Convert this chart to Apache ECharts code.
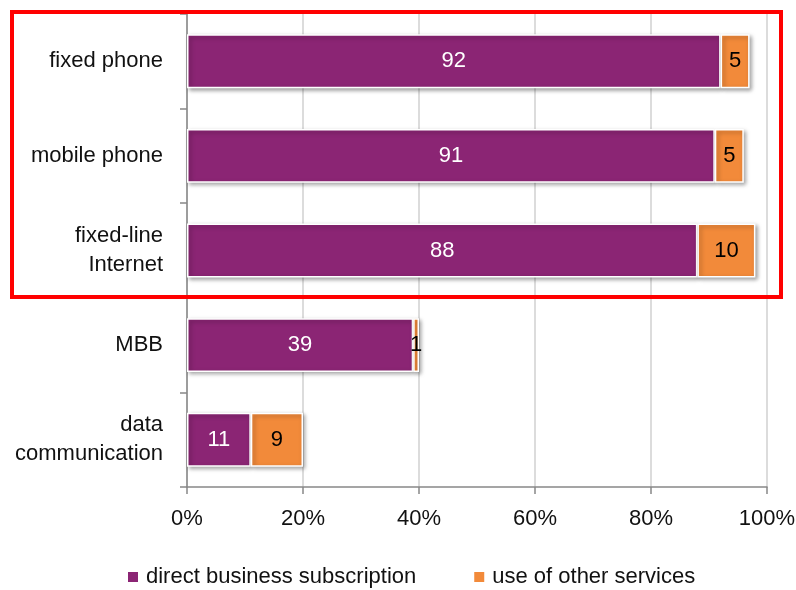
<!DOCTYPE html>
<html>
<head>
<meta charset="utf-8">
<script src="https://cdn.jsdelivr.net/npm/echarts@6/dist/echarts.min.js"></script>
<style>
  html, body { margin: 0; padding: 0; background: #fff; }
  #chart { width: 796px; height: 590px; }
</style>
</head>
<body>
<div id="chart"></div>
<script>
// categories from top to bottom
const categories = ['fixed phone', 'mobile phone', 'fixed-line\nInternet', 'MBB', 'data\ncommunication'];
const directSub = [92, 91, 88, 39, 11];
const otherServices = [5, 5, 10, 1, 9];
const xTicks = [0, 20, 40, 60, 80, 100];

const chart = echarts.init(document.getElementById('chart'));

const barStyle = (color) => ({
  color: color,
  borderColor: '#fff',
  borderWidth: 1.5,
  shadowBlur: 4,
  shadowColor: 'rgba(0,0,0,0.35)',
  shadowOffsetX: 2,
  shadowOffsetY: 2
});

const font = 'Liberation Sans';

chart.setOption({
  animation: false,
  textStyle: { fontFamily: font },
  grid: { left: 187, right: 29, top: 14, bottom: 103, outerBoundsMode: 'none' },
  legend: {
    bottom: -3,
    left: 121,
    itemWidth: 12,
    itemHeight: 12,
    itemGap: 56,
    icon: 'rect',
    textStyle: { fontSize: 22, color: '#111', fontFamily: font, padding: [0, 0, 0, 2] },
    data: ['direct business subscription', 'use of other services']
  },
  xAxis: {
    type: 'value',
    min: xTicks[0],
    max: xTicks[xTicks.length - 1],
    interval: 20,
    axisLine: { show: true, lineStyle: { color: '#888', width: 1.5 } },
    axisTick: { show: true, length: 7, lineStyle: { color: '#888', width: 1.5 } },
    splitLine: { show: true, lineStyle: { color: '#d0d0d0', width: 1.5 } },
    axisLabel: { formatter: '{value}%', fontSize: 22, color: '#111', margin: 21, fontFamily: font }
  },
  yAxis: {
    type: 'category',
    inverse: true,
    data: categories,
    axisLine: { show: true, lineStyle: { color: '#888', width: 1.5 } },
    axisTick: { show: true, length: 7, lineStyle: { color: '#888', width: 1.5 } },
    axisLabel: { fontSize: 22, color: '#111', margin: 24, lineHeight: 29, fontFamily: font, align: 'right' }
  },
  series: [
    {
      name: 'direct business subscription',
      type: 'bar',
      stack: 'total',
      barCategoryGap: '43%',
      data: directSub,
      itemStyle: barStyle('#8b2574'),
      label: { show: true, position: 'inside', color: '#fff', fontSize: 22, fontFamily: font }
    },
    {
      name: 'use of other services',
      type: 'bar',
      stack: 'total',
      barCategoryGap: '43%',
      data: otherServices,
      itemStyle: barStyle('#f28a3a'),
      label: { show: true, position: 'inside', color: '#000', fontSize: 22, fontFamily: font }
    }
  ],
  graphic: [
    {
      type: 'rect',
      shape: { x: 12, y: 12, width: 769, height: 285 },
      style: { fill: 'none', stroke: '#ff0000', lineWidth: 4 },
      z: 100
    }
  ]
});
</script>
</body>
</html>
